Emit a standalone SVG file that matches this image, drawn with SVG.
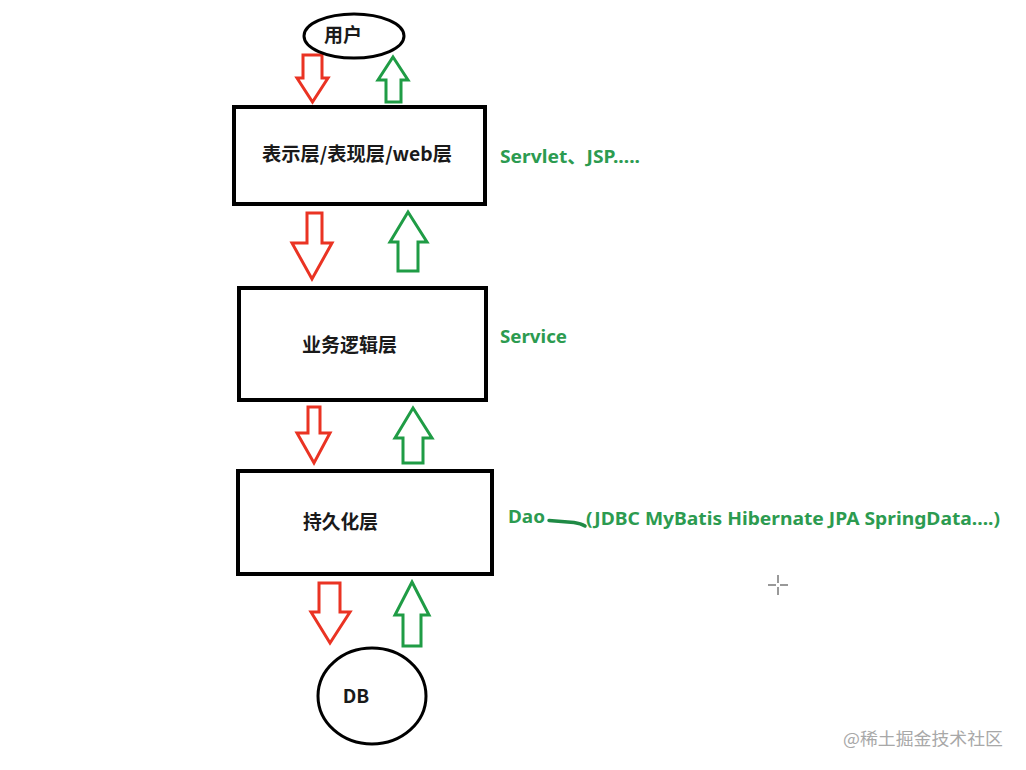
<svg xmlns="http://www.w3.org/2000/svg" width="1026" height="770" viewBox="0 0 1026 770">
<style>
.box{fill:#fff;stroke:#000;stroke-width:4}
.oval{fill:#fff;stroke:#000;stroke-width:3}
.lbl{font-family:"Noto Sans CJK SC","Noto Sans",sans-serif;font-weight:bold;font-size:19px;fill:#1a1a1a}
.g{font-family:"Noto Sans","Noto Sans CJK SC",sans-serif;font-weight:bold;font-size:18px;fill:#2c9b50}
.down{fill:#fff;stroke:#ea3323;stroke-width:3;stroke-linejoin:miter}
.up{fill:#fff;stroke:#1f9c45;stroke-width:3;stroke-linejoin:miter}
.wm{font-family:"Noto Sans CJK SC",sans-serif;font-size:17px;fill:#a8a8a8}
</style>
<rect width="1026" height="770" fill="#fff"/>
<g id="connectors">
<path class="down" d="M303,55 H322 V78 H328 L312.5,102 L297,78 H303 Z"/>
<path class="up" d="M393,57 L408,80 H401 V102 H386 V80 H378 Z"/>
<path class="down" d="M307,213 H322 V243 H332 L312,279 L292,243 H307 Z"/>
<path class="up" d="M408,212 L427,242 H418 V271 H398 V242 H390 Z"/>
<path class="down" d="M308,407 H320 V433 H330 L314,463 L297,433 H308 Z"/>
<path class="up" d="M413,408 L432,438 H423 V463 H403 V438 H395 Z"/>
<path class="down" d="M319,583 H340 V612 H350 L330,643 L311,612 H319 Z"/>
<path class="up" d="M412,582 L429,615 H421 V646 H403 V615 H395 Z"/>
</g>
<g id="user">
<ellipse class="oval" cx="354" cy="36" rx="50" ry="22"/>
<text class="lbl" x="343" y="42" text-anchor="middle" font-size="18">用户</text>
</g>
<g id="web">
<rect class="box" x="234" y="107" width="251" height="97"/>
<text class="lbl" x="262" y="161" textLength="190" lengthAdjust="spacingAndGlyphs">表示层/表现层/web层</text>
</g>
<g id="service">
<rect class="box" x="239" y="288" width="247" height="112"/>
<text class="lbl" x="302" y="352" textLength="95" lengthAdjust="spacingAndGlyphs">业务逻辑层</text>
</g>
<g id="dao">
<rect class="box" x="238" y="471" width="254" height="103"/>
<text class="lbl" x="303" y="529" textLength="75" lengthAdjust="spacingAndGlyphs">持久化层</text>
</g>
<g id="db">
<ellipse class="oval" cx="372" cy="696" rx="54" ry="48"/>
<text class="lbl" x="356" y="703" text-anchor="middle" font-family="Liberation Sans, sans-serif">DB</text>
</g>
<g id="notes">
<text class="g" x="500" y="163" textLength="140" lengthAdjust="spacingAndGlyphs">Servlet、JSP.....</text>
<text class="g" x="500" y="343" textLength="67" lengthAdjust="spacingAndGlyphs">Service</text>
<text class="g" x="508" y="523" textLength="37" lengthAdjust="spacingAndGlyphs">Dao</text>
<path d="M549,520.5 L574,522.5 Q581,523.5 585,526" fill="none" stroke="#1f8a45" stroke-width="3.5" stroke-linecap="round"/>
<text class="g" x="586" y="525" textLength="414" lengthAdjust="spacingAndGlyphs">(JDBC MyBatis Hibernate JPA SpringData....)</text>
</g>
<g id="cursor" stroke="#555" stroke-width="1.2">
<line x1="768" y1="585" x2="776" y2="585"/>
<line x1="780" y1="585" x2="788" y2="585"/>
<line x1="778" y1="575" x2="778" y2="583"/>
<line x1="778" y1="587" x2="778" y2="595"/>
</g>
<text class="wm" x="843" y="745" textLength="160" lengthAdjust="spacingAndGlyphs">@稀土掘金技术社区</text>
</svg>
